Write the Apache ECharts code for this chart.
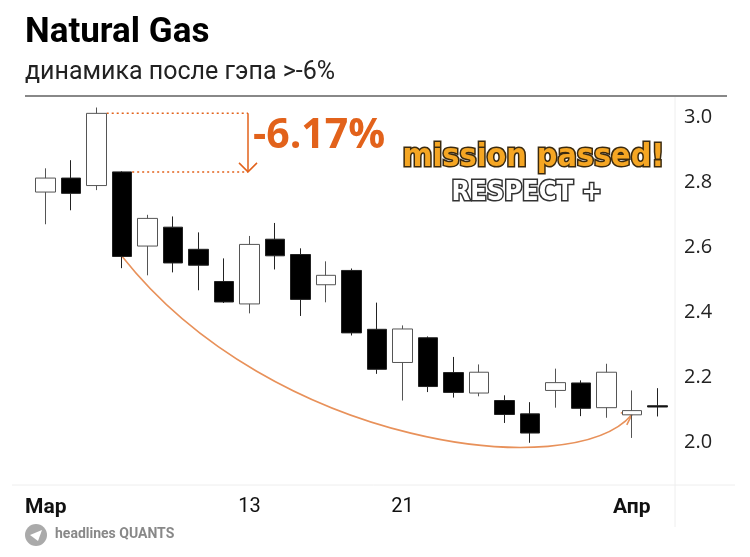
<!DOCTYPE html>
<html>
<head>
<meta charset="utf-8">
<script src="https://cdn.jsdelivr.net/npm/echarts@6/dist/echarts.min.js"></script>
<style>html,body{margin:0;padding:0;background:#fff}#main{width:750px;height:557px}</style>
</head>
<body>
<div id="main"></div>
<script>
var dates = ['03-01','03-02','03-03','03-06','03-07','03-08','03-09','03-10','03-13','03-14','03-15','03-16','03-17',
  '03-20','03-21','03-22','03-23','03-24','03-27','03-28','03-29','03-30','03-31','04-03','04-04'];
var tickLabels = {'03-01': 'Мар', '03-13': '13', '03-21': '21', '04-03': 'Апр'};
// [open, close, low, high]
var ohlc = [
  [2.770, 2.813, 2.671, 2.843],
  [2.813, 2.766, 2.714, 2.868],
  [2.790, 3.012, 2.776, 3.030],
  [2.832, 2.572, 2.536, 2.834],
  [2.604, 2.689, 2.514, 2.700],
  [2.662, 2.552, 2.523, 2.695],
  [2.594, 2.545, 2.468, 2.646],
  [2.495, 2.432, 2.429, 2.566],
  [2.426, 2.609, 2.397, 2.635],
  [2.625, 2.574, 2.532, 2.675],
  [2.578, 2.440, 2.389, 2.597],
  [2.485, 2.514, 2.431, 2.557],
  [2.529, 2.337, 2.329, 2.535],
  [2.348, 2.225, 2.211, 2.430],
  [2.246, 2.349, 2.129, 2.360],
  [2.322, 2.172, 2.155, 2.326],
  [2.215, 2.154, 2.138, 2.263],
  [2.152, 2.216, 2.142, 2.240],
  [2.129, 2.086, 2.060, 2.145],
  [2.088, 2.029, 1.999, 2.124],
  [2.160, 2.184, 2.107, 2.227],
  [2.183, 2.105, 2.081, 2.191],
  [2.107, 2.216, 2.076, 2.242],
  [2.085, 2.098, 2.014, 2.160],
  [2.113, 2.109, 2.080, 2.167]
];
var gapLabel = '-6.17%';

var myChart = echarts.init(document.getElementById('main'));
var orange = '#e2621b';
myChart.setOption({
  animation: false,
  grid: {left: 33, right: 80, top: 101, bottom: 82},
  xAxis: {
    type: 'category', data: dates,
    axisLine: {show: false},
    axisTick: {show: false},
    splitLine: {show: false},
    axisLabel: {
      interval: 0, margin: 22,
      formatter: function (v) {
        var t = tickLabels[v];
        if (!t) return '';
        return /\d/.test(t) ? t : '{b|' + t + '}';
      },
      color: '#111', fontSize: 20, fontFamily: 'Roboto',
      rich: {b: {fontWeight: 'bold', fontSize: 21, color: '#111', fontFamily: 'Roboto'}}
    }
  },
  yAxis: {
    type: 'value', position: 'right', min: 1.9, max: 3.05, interval: 0.1,
    axisLine: {show: false}, axisTick: {show: false}, splitLine: {show: false},
    axisLabel: {
      color: '#222', fontSize: 20, fontFamily: 'Open Sans', margin: 14, showMaxLabel: false,
      formatter: function (v) {
        var n = Math.round(v * 10);
        return (n >= 20 && n % 2 === 0 && Math.abs(v * 10 - n) < 1e-6) ? (n / 10).toFixed(1) : '';
      }
    }
  },
  series: [{
    type: 'candlestick', data: ohlc, barWidth: 20,
    itemStyle: {color: '#fff', color0: '#000', borderColor: '#555', borderColor0: '#222', borderWidth: 1}
  }]
});

function px(i, v) { return myChart.convertToPixel({seriesIndex: 0}, [i, v]); }
var top3 = px(2, ohlc[2][1]);
var top4 = px(3, ohlc[3][0]);
var armX = 248;
var start = px(3, ohlc[3][1]);
var end = px(23, ohlc[23][0]);
var dotted = {stroke: orange, lineWidth: 1.5, lineDash: [2, 3]};

myChart.setOption({
  graphic: [
    {type: 'text', left: 25, top: 16, style: {text: 'Natural Gas', font: 'bold 35px Roboto', fill: '#000'}},
    {type: 'text', left: 25, top: 60, style: {text: 'динамика после гэпа >-6%', font: '25px Roboto', fill: '#222'}},
    {type: 'line', shape: {x1: 25, y1: 96, x2: 727, y2: 96}, style: {stroke: '#888', lineWidth: 2}},
    {type: 'line', shape: {x1: 675, y1: 97, x2: 675, y2: 527}, style: {stroke: '#eee', lineWidth: 1}},
    {type: 'line', shape: {x1: 12, y1: 485, x2: 735, y2: 485}, style: {stroke: '#eee', lineWidth: 1}},
    {type: 'line', shape: {x1: top3[0] + 10, y1: top3[1], x2: armX, y2: top3[1]}, style: dotted},
    {type: 'line', shape: {x1: top4[0] + 10, y1: top4[1], x2: armX, y2: top4[1]}, style: dotted},
    {type: 'line', shape: {x1: armX, y1: top3[1], x2: armX, y2: top4[1]}, style: {stroke: orange, lineWidth: 1.5}},
    {type: 'polyline', shape: {points: [[armX - 9, top4[1] - 9], [armX, top4[1]], [armX + 9, top4[1] - 9]]}, style: {stroke: orange, lineWidth: 1.5, fill: null}},
    {type: 'text', left: 253, top: 116, style: {text: gapLabel, font: 'bold 41px Open Sans', fill: orange}},
    {type: 'text', left: 401, top: 140, style: {text: 'mission passed!', font: 'bold 32px DejaVu Sans Condensed', fill: '#f5a623', stroke: '#3a2a10', lineWidth: 3}},
    {type: 'text', left: 450, top: 178, style: {text: 'RESPECT +', font: 'bold 27px DejaVu Sans Condensed', fill: '#fff', stroke: '#333', lineWidth: 3}},
    {type: 'bezierCurve', shape: {x1: start[0], y1: start[1], cpx1: start[0] + 150, cpy1: start[1] + 190, cpx2: end[0] - 60, cpy2: end[1] + 70, x2: end[0], y2: end[1]},
      style: {stroke: '#e8915a', lineWidth: 1.6, fill: null}},
    {type: 'polyline', shape: {points: [[end[0] - 11, end[1] - 2], [end[0], end[1]], [end[0] - 5, end[1] + 10]]}, style: {stroke: '#e8915a', lineWidth: 1.6, fill: null}},
    {type: 'circle', shape: {cx: 36, cy: 535, r: 11}, style: {fill: '#aaa'}},
    {type: 'polygon', shape: {points: [[30, 535], [42, 530], [38, 541]]}, style: {fill: '#fff'}},
    {type: 'text', left: 55, top: 527, style: {text: 'headlines QUANTS', font: 'bold 14px Roboto', fill: '#888'}}
  ]
});
</script>
</body>
</html>
